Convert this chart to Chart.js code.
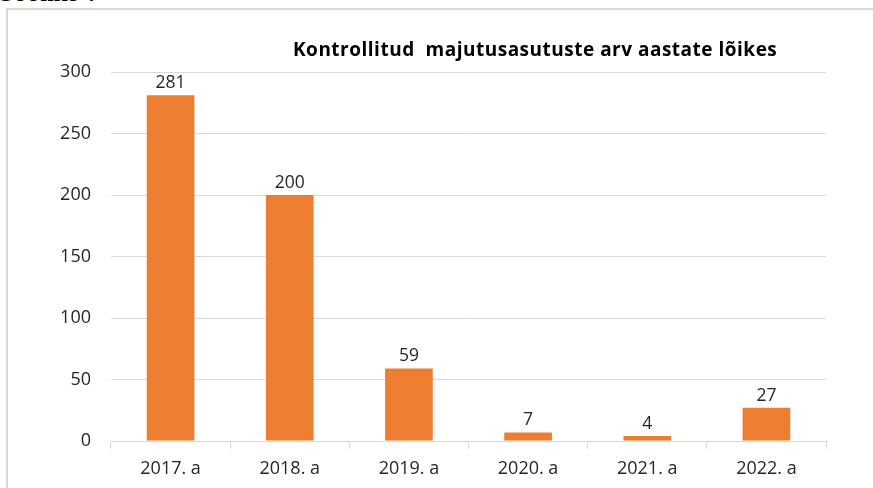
<!DOCTYPE html>
<html>
<head>
<meta charset="utf-8">
<script src="https://cdn.jsdelivr.net/npm/chart.js@4/dist/chart.umd.min.js"></script>
<style>
  html, body { margin: 0; padding: 0; background: #fff; overflow: hidden; }
  body { width: 873px; height: 488px; position: relative; }
  #frame { position: absolute; left: 6px; top: 8px; width: 900px; height: 500px; border-left: 2px solid #d9d9d9; border-top: 2px solid #d9d9d9; box-sizing: border-box; }
  #doc { position: absolute; left: 0px; top: -20px; font-family: "Liberation Serif", serif; font-weight: bold; font-size: 24px; letter-spacing: 1px; color: #000; white-space: nowrap; }
  #title { position: absolute; left: 293px; top: 36px; font-family: "Open Sans", sans-serif; font-weight: bold; font-size: 19px; letter-spacing: 0.5px; color: #000; white-space: nowrap; }
  #wrap { position: absolute; left: 0; top: 0; width: 873px; height: 488px; }
</style>
</head>
<body>
<div id="doc">Söömis ?</div>
<div id="frame"></div>
<div id="wrap"><canvas id="c" width="873" height="488"></canvas></div>
<div id="title">Kontrollitud&nbsp; majutusasutuste arv aastate lõikes</div>
<script>
const categories = ["2017. a", "2018. a", "2019. a", "2020. a", "2021. a", "2022. a"];
const values = [281, 200, 59, 7, 4, 27];
const yTicks = [0, 50, 100, 150, 200, 250, 300];

const FONT = "'Open Sans', sans-serif";
const TEXT = "#262626";

const labelPlugin = {
  id: "barLabels",
  afterDatasetsDraw(chart) {
    const ctx = chart.ctx;
    const meta = chart.getDatasetMeta(0);
    ctx.save();
    ctx.font = "17.5px " + FONT;
    ctx.fillStyle = TEXT;
    ctx.textAlign = "center";
    ctx.textBaseline = "alphabetic";
    meta.data.forEach((bar, i) => {
      ctx.fillText(String(values[i]), bar.x, bar.y - 7);
    });
    ctx.restore();
  }
};

new Chart(document.getElementById("c"), {
  type: "bar",
  data: {
    labels: categories,
    datasets: [{
      data: values,
      backgroundColor: "#ED7D31",
      borderWidth: 0,
      categoryPercentage: 1.0,
      barPercentage: 0.4
    }]
  },
  options: {
    responsive: false,
    animation: false,
    devicePixelRatio: 1,
    layout: { padding: { left: 0, right: 47, top: 72, bottom: 0 } },
    plugins: { legend: { display: false }, tooltip: { enabled: false }, title: { display: false } },
    scales: {
      x: {
        offset: true,
        grid: { offset: true, drawOnChartArea: false, drawTicks: true, tickLength: 8, color: "#d9d9d9", lineWidth: 1 },
        border: { display: true, color: "#d9d9d9", width: 1 },
        ticks: { font: { family: FONT, size: 18 }, color: TEXT, padding: 9 },
        afterFit(scale) { scale.height = 47; }
      },
      y: {
        min: 0, max: 300,
        afterBuildTicks(scale) { scale.ticks = yTicks.map(v => ({ value: v })); },
        grid: { drawTicks: false, color: "#d9d9d9", lineWidth: 1 },
        border: { display: false },
        ticks: { font: { family: FONT, size: 18 }, color: TEXT, padding: 20 },
        afterFit(scale) { scale.width = 111; }
      }
    }
  },
  plugins: [labelPlugin]
});
</script>
</body>
</html>
